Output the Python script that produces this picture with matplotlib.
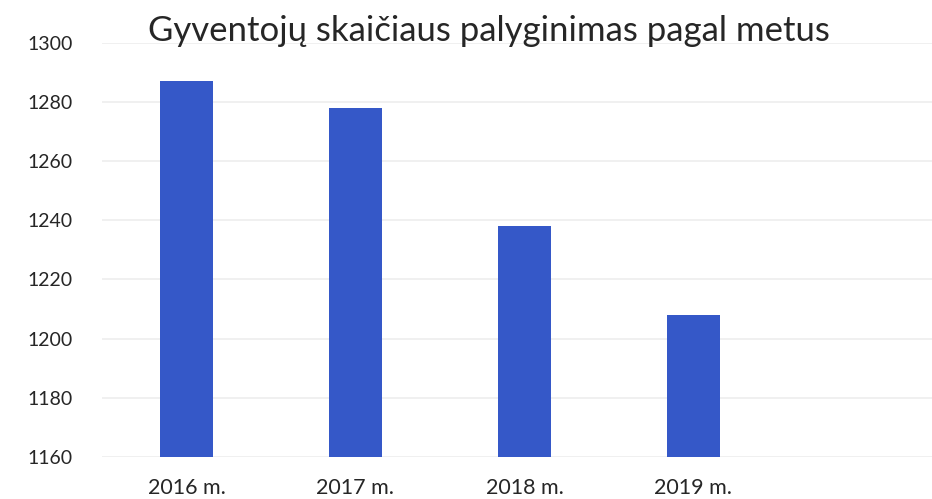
import matplotlib.pyplot as plt

# Data
years = ['2016 m.', '2017 m.', '2018 m.', '2019 m.']
population = [1287, 1278, 1238, 1208]
y_ticks = [1160, 1180, 1200, 1220, 1240, 1260, 1280, 1300]

plt.rcParams['font.family'] = ['Lato', 'DejaVu Sans']
text_color = '#262626'

fig = plt.figure(figsize=(9.32, 4.99), dpi=100)
ax = fig.add_axes([102 / 932, 1 - 457 / 499, 1 - 102 / 932, (457 - 42.7) / 499])

ax.bar(range(len(years)), population, width=0.31, color='#3558C8', zorder=3)

ax.set_ylim(1160, 1300)
ax.set_xlim(-0.5, -0.5 + 830 / 169)
ax.set_yticks(y_ticks)
ax.set_xticks(range(len(years)))
ax.set_xticklabels(years, fontsize=15.5)
ax.tick_params(axis='both', length=0, colors=text_color)
ax.tick_params(axis='y', pad=21, labelsize=14)
ax.tick_params(axis='x', pad=15)

ax.grid(axis='y', color='#EEEEEE', linewidth=1.2, zorder=0)
for spine in ax.spines.values():
    spine.set_visible(False)

fig.text(489 / 932, 1 - 31 / 499, 'Gyventojų skaičiaus palyginimas pagal metus',
         ha='center', va='center', fontsize=25, color=text_color)

plt.savefig('out.png', dpi=100)
